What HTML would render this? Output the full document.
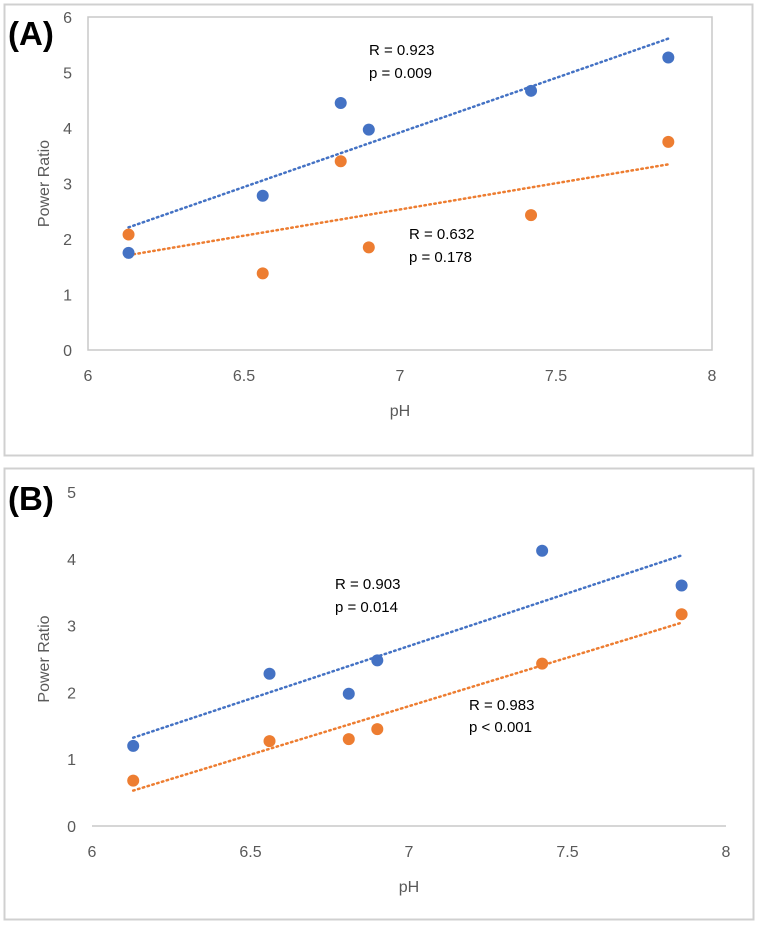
<!DOCTYPE html>
<html><head><meta charset="utf-8"><style>
body{margin:0;background:#fff;width:759px;height:930px;overflow:hidden;font-family:"Liberation Sans",sans-serif}
svg text{font-family:"Liberation Sans",sans-serif}
</style></head><body>
<svg id="svg" width="759" height="930">
<rect x="4.5" y="4.5" width="748" height="451" fill="#fff" stroke="#d0d0d0" stroke-width="2"/>
<rect x="4.5" y="468.5" width="749" height="451" fill="#fff" stroke="#d0d0d0" stroke-width="2"/>
<text x="8" y="45" font-size="33" font-weight="bold" fill="#000">(A)</text>
<text x="8" y="510" font-size="33" font-weight="bold" fill="#000">(B)</text>
<g id="ga"></g><g id="gb"></g>
</svg>
<script>
const phValues = [6.13, 6.56, 6.81, 6.90, 7.42, 7.86];
const aBlue = [1.75, 2.78, 4.45, 3.97, 4.67, 5.27];
const aOrange = [2.08, 1.38, 3.40, 1.85, 2.43, 3.75];
const bBlue = [1.20, 2.28, 1.98, 2.48, 4.12, 3.60];
const bOrange = [0.68, 1.27, 1.30, 1.45, 2.43, 3.17];
const xTicks = ["6", "6.5", "7", "7.5", "8"];
const aYTicks = ["0", "1", "2", "3", "4", "5", "6"];
const bYTicks = ["0", "1", "2", "3", "4", "5"];
const NS = "http://www.w3.org/2000/svg";
function mk(g, tag, attrs){const e=document.createElementNS(NS,tag);for(const k in attrs)e.setAttribute(k,attrs[k]);g.appendChild(e);return e;}
function fit(xs,ys){const n=xs.length;let mx=0,my=0;for(let i=0;i<n;i++){mx+=xs[i];my+=ys[i];}mx/=n;my/=n;let sxy=0,sxx=0;for(let i=0;i<n;i++){sxy+=(xs[i]-mx)*(ys[i]-my);sxx+=(xs[i]-mx)**2;}const b=sxy/sxx;return [my-b*mx,b];}
function panel(g, cfg){
  const X=v=>cfg.l+(v-6)/2*(cfg.r-cfg.l);
  const Y=v=>cfg.b-v/cfg.ymax*(cfg.b-cfg.t);
  if(cfg.border){const r=mk(g,'rect',{x:cfg.l,y:cfg.t,width:cfg.r-cfg.l,height:cfg.b-cfg.t,fill:'none',stroke:'#c8c8c8','stroke-width':1.5});
    
    }
  else{const a=mk(g,'line',{x1:cfg.l,x2:cfg.r,y1:cfg.b,y2:cfg.b,stroke:'#c8c8c8','stroke-width':1.5});
    
    }
  cfg.yt.forEach(t=>{const e=mk(g,'text',{x:cfg.l-16,y:Y(+t)+6,'font-size':16,fill:'#595959','text-anchor':'end'});e.textContent=t;
    
    });
  xTicks.forEach(t=>{const e=mk(g,'text',{x:X(+t),y:cfg.b+31,'font-size':16,fill:'#595959','text-anchor':'middle'});e.textContent=t;
    
    });
  const xt=mk(g,'text',{x:(cfg.l+cfg.r)/2,y:cfg.b+66,'font-size':16,fill:'#595959','text-anchor':'middle'});xt.textContent='pH';
  
  
  const cy=(cfg.t+cfg.b)/2;
  const yt=mk(g,'text',{x:49,y:cy,'font-size':16,fill:'#595959','text-anchor':'middle',transform:`rotate(-90 49 ${cy})`});yt.textContent='Power Ratio';
  
  
  [[cfg.blue,'#4472c4','blue'],[cfg.orange,'#ed7d31','orange']].forEach(([ys,c,nm])=>{
    const [a,b]=fit(phValues,ys);const x0=phValues[0],x1=phValues[phValues.length-1];
    const ln=mk(g,'line',{x1:X(x0),y1:Y(a+b*x0),x2:X(x1),y2:Y(a+b*x1),stroke:c,'stroke-width':2.5,'stroke-dasharray':'1.5 3.5','stroke-linecap':'round'});
    
    
  });
  [[cfg.orange,'#ed7d31','orange'],[cfg.blue,'#4472c4','blue']].forEach(([ys,c,nm])=>{
    ys.forEach((v,i)=>{const p=mk(g,'circle',{cx:X(phValues[i]),cy:Y(v),r:6,fill:c});
      
      });
  });
  cfg.notes.forEach(n=>{const e=mk(g,'text',{x:n[0],y:n[1],'font-size':15,fill:'#000'});e.textContent=n[2];
    
    });
}
panel(document.getElementById('ga'),{l:88,r:712,t:17,b:350,ymax:6,yt:aYTicks,blue:aBlue,orange:aOrange,border:true,
  notes:[[369,55,'R = 0.923'],[369,78,'p = 0.009'],[409,239,'R = 0.632'],[409,262,'p = 0.178']]});
panel(document.getElementById('gb'),{l:92,r:726,t:492,b:826,ymax:5,yt:bYTicks,blue:bBlue,orange:bOrange,border:false,
  notes:[[335,589,'R = 0.903'],[335,612,'p = 0.014'],[469,710,'R = 0.983'],[469,732,'p < 0.001']]});
</script>
</body></html>
